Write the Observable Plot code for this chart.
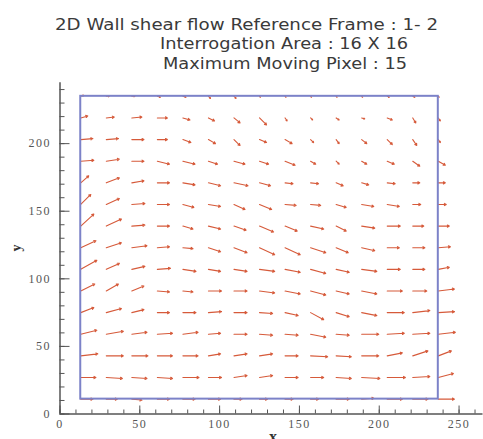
<!DOCTYPE html>
<html><head><meta charset="utf-8">
<script src="https://cdn.jsdelivr.net/npm/d3@7"></script>
<script src="https://cdn.jsdelivr.net/npm/@observablehq/plot@0.6"></script>
<style>
body{margin:0;background:#fff;}
#wrap{position:relative;width:483px;height:439px;overflow:hidden;background:#fff;}
#wrap svg{position:absolute;left:0;top:0;}
</style></head><body><div id="wrap"></div>
<script>
const titleLines = [
  "2D Wall shear flow Reference Frame : 1- 2",
  "Interrogation Area : 16 X 16",
  "Maximum Moving Pixel : 15"
];
const xLabel = "x";
const yLabel = "y";
const xMajorTicks = [0, 50, 100, 150, 200, 250];
const yMajorTicks = [0, 50, 100, 150, 200];
const xMinorTicks = [0,10,20,30,40,50,60,70,80,90,100,110,120,130,140,150,160,170,180,190,200,210,220,230,240,250,260];
const yMinorTicks = [0,10,20,30,40,50,60,70,80,90,100,110,120,130,140,150,160,170,180,190,200,210,220,230,240];

// grid of interrogation-window centres
const xGrid = [13, 29, 45, 61, 77, 93, 109, 125, 141, 157, 173, 189, 205, 221, 237];
const yGrid = [11, 27, 43, 59, 75, 91, 107, 123, 139, 155, 171, 187, 203, 219, 235];

// displacement components (rows from bottom y=11 to top y=235)
const U = [
  [7.6,6.9,6.3,7.6,7.6, 7.6,5.0,5.0,5.0,5.0, 8.2,7.6,9.5,9.5,10.1],
  [9.5,10.1,9.5,9.5,10.1, 8.2,8.2,8.2,8.2,8.2, 9.5,11.4,11.4,10.7,9.5],
  [10.7,10.7,10.1,9.5,9.5, 7.6,8.2,8.2,8.2,10.7, 9.5,10.7,9.5,9.5,8.2],
  [10.1,10.7,9.5,9.5,9.5, 7.6,8.2,8.2,8.2,9.5, 8.2,10.7,10.7,10.7,10.7],
  [8.2,9.5,7.6,7.6,8.2, 8.2,8.2,8.2,8.2,8.2, 8.2,9.5,10.7,10.7,10.1],
  [8.8,7.6,7.6,7.6,6.3, 8.2,8.2,9.5,9.5,9.5, 8.2,9.5,9.5,8.8,10.1],
  [10.1,8.2,8.2,8.2,8.2, 7.6,8.2,9.5,9.5,9.5, 8.2,9.5,8.2,7.6,6.9],
  [9.5,9.5,9.5,7.6,6.3, 7.6,8.2,9.5,9.5,9.5, 7.6,8.2,7.6,7.6,7.6],
  [8.2,9.5,8.2,7.6,6.3, 7.6,7.6,8.8,7.6,8.2, 6.3,8.2,8.2,6.9,6.9],
  [6.3,8.2,8.2,7.6,6.9, 7.6,6.9,7.6,6.9,6.3, 6.3,7.6,7.6,5.0,5.0],
  [5.0,8.2,7.6,7.6,7.6, 7.6,8.8,6.9,5.0,5.0, 4.4,4.4,5.0,4.4,4.4],
  [8.2,8.2,7.6,7.6,7.6, 5.7,6.9,5.7,6.3,3.2, 1.9,3.2,4.4,4.4,4.4],
  [7.6,7.6,7.6,6.3,5.0, 4.4,3.8,4.4,4.4,1.9, 1.9,3.2,3.2,2.5,1.3],
  [4.4,5.0,6.3,6.3,4.4, 3.8,3.8,4.4,1.3,1.3, 1.9,1.9,3.2,1.9,1.3],
  [1.9,1.9,1.9,1.9,1.9, 1.3,1.3,0.6,0.6,0.6, 0.6,0.6,1.3,1.3,0.6]
];
const V = [
  [0,0,-0.7,0,0, 0,0,0,0,0, 0,0.7,0,0,0],
  [0,-0.7,-0.7,-0.7,0, 0,1.5,1.5,0,0, -0.7,-0.7,0,0.7,3.0],
  [1.5,0,0,0,0, 1.5,1.5,1.5,0,-0.7, -0.7,0,2.2,3.7,3.7],
  [3.0,2.2,1.5,0.7,1.5, 0.7,0,-0.7,-0.7,-2.2, -0.7,0,0.7,0.7,1.5],
  [3.7,3.0,2.2,0,0, 0.7,0,-0.7,-2.2,-5.2, -3.0,-2.2,0,1.5,0.7],
  [5.2,5.2,3.7,-0.7,-0.7, 0,0,-1.5,-2.2,-3.0, -2.2,-2.2,0,0,1.5],
  [6.7,4.4,2.2,0.7,-1.5, -1.5,-1.5,-1.5,-2.2,-3.0, -2.2,-1.5,0,0,1.5],
  [5.2,3.7,1.5,0.7,-0.7, -3.0,-3.7,-5.2,-5.2,-3.7, -3.7,-2.2,0,0,0.7],
  [8.9,5.2,0.7,0,-2.2, -2.2,-3.0,-4.4,-3.7,-2.2, -3.7,-1.5,0,0,0],
  [7.4,4.4,0.7,0,-2.2, -1.5,-3.7,-3.7,-0.7,-0.7, -2.2,-1.5,-1.5,0,0],
  [5.2,3.7,1.5,0,-1.5, -2.2,-2.2,-2.2,-0.7,-0.7, -2.2,-1.5,-0.7,0,0],
  [0.7,1.5,0,-2.2,-2.2, -2.2,-2.2,-2.2,-3.0,-2.2, -2.2,-2.2,-2.2,-3.7,-3.0],
  [0.7,0.7,0,0,-2.2, -3.0,-4.4,-2.2,-3.0,-2.2, -3.0,-3.0,-3.7,-4.4,-2.2],
  [1.5,0.7,0.7,0,-1.5, -2.2,-3.7,-5.2,-2.2,-1.5, -1.5,-0.7,-1.5,-3.7,-2.2],
  [0.7,0,0,-0.7,-0.7, -1.5,-1.5,-0.7,-0.7,-0.7, -0.7,-0.7,-0.7,-0.7,-0.7]
];

const vectors = [];
yGrid.forEach((y, j) => xGrid.forEach((x, i) => vectors.push({x, y, u: U[j][i], v: V[j][i]})));
const box = [{x1: d3.min(xGrid), x2: d3.max(xGrid), y1: d3.min(yGrid), y2: d3.max(yGrid)}];

const axisColor = "#555";
const noText = () => "";
const plot = Plot.plot({
  width: 483, height: 439,
  marginLeft: 59.5, marginRight: 0.5, marginTop: 82.3, marginBottom: 25.5,
  x: {domain: [0, 265]},
  y: {domain: [0, 245]},
  style: {background: "transparent", fontFamily: "'Liberation Serif', serif", fontSize: "12px", color: "#555", letterSpacing: "1.5px"},
  marks: [
    Plot.arrow(vectors, {x1: "x", y1: "y", x2: d => d.x + d.u, y2: d => d.y + d.v, stroke: "#d65a3a", strokeWidth: 1.1, headLength: 3}),
    Plot.rect(box, {x1: "x1", x2: "x2", y1: "y1", y2: "y2", fill: "none", stroke: "#7c82c8", strokeWidth: 2}),
    Plot.ruleX([0], {stroke: axisColor, strokeWidth: 1.5}),
    Plot.ruleY([0], {stroke: axisColor, strokeWidth: 1.5}),
    Plot.axisX(xMinorTicks, {tickSize: 4, dy: -4, tickFormat: noText, label: null, stroke: axisColor}),
    Plot.axisX(xMajorTicks, {tickSize: 8, dy: -8, tickFormat: noText, label: null, stroke: axisColor}),
    Plot.axisX(xMajorTicks, {tickSize: 0, tickPadding: 5, label: null, fill: "#555"}),
    Plot.axisY(yMinorTicks, {tickSize: 5, dx: 5, tickFormat: noText, label: null, stroke: axisColor}),
    Plot.axisY(yMajorTicks, {tickSize: 10, dx: 10, tickFormat: noText, label: null, stroke: axisColor}),
    Plot.axisY(yMajorTicks, {tickSize: 0, tickPadding: 9, label: null, fill: "#555"})
  ]
});
const wrap = document.getElementById("wrap");
wrap.appendChild(plot);

// title and axis labels
const ns = "http://www.w3.org/2000/svg";
const over = document.createElementNS(ns, "svg");
over.setAttribute("width", 483); over.setAttribute("height", 439);
const titlePos = [{x: 55, y: 30, w: 383}, {x: 160, y: 49, w: 248}, {x: 163, y: 69, w: 244}];
titleLines.forEach((t, k) => {
  const el = document.createElementNS(ns, "text");
  el.setAttribute("x", titlePos[k].x); el.setAttribute("y", titlePos[k].y);
  el.setAttribute("textLength", titlePos[k].w);
  el.setAttribute("lengthAdjust", "spacingAndGlyphs");
  el.setAttribute("font-family", "'DejaVu Sans', sans-serif");
  el.setAttribute("font-size", 16);
  el.setAttribute("fill", "#3a3a3a");
  el.textContent = t;
  over.appendChild(el);
});
const yl = document.createElementNS(ns, "text");
yl.setAttribute("transform", "translate(21,248) rotate(-90)");
yl.setAttribute("text-anchor", "middle");
yl.setAttribute("font-family", "'Liberation Serif', serif");
yl.setAttribute("font-size", 14); yl.setAttribute("font-weight", "bold"); yl.setAttribute("fill", "#333");
yl.textContent = yLabel; over.appendChild(yl);
const xl = document.createElementNS(ns, "text");
xl.setAttribute("x", 273); xl.setAttribute("y", 442);
xl.setAttribute("text-anchor", "middle");
xl.setAttribute("font-family", "'Liberation Serif', serif");
xl.setAttribute("font-size", 16); xl.setAttribute("font-weight", "bold"); xl.setAttribute("fill", "#333");
xl.textContent = xLabel; over.appendChild(xl);
wrap.appendChild(over);
</script></body></html>
